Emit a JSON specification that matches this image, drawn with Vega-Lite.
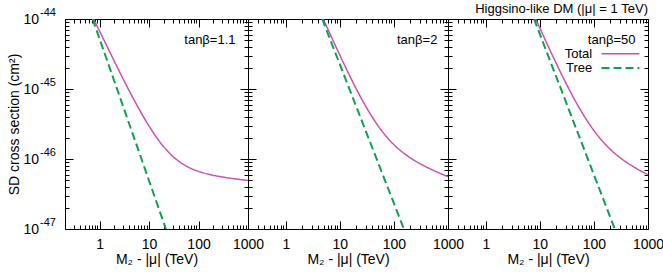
{
  "$schema": "https://vega.github.io/schema/vega-lite/v6.json",
  "background": "white",
  "padding": {"left": 6, "top": 2, "right": 0, "bottom": 0},
  "spacing": 0,
  "bounds": "flush",
  "config": {
    "font": "Liberation Sans",
    "view": {"stroke": "#000", "strokeWidth": 1},
    "axis": {
      "domain": false, "grid": false, "tickColor": "#000", "tickWidth": 1,
      "labelFont": "Liberation Sans", "labelFontSize": 14, "labelColor": "#000",
      "titleFont": "Liberation Sans", "titleFontSize": 14, "titleFontWeight": "normal", "titleColor": "#000",
      "labelOverlap": false, "labelFlush": false
    },
    "title": {"font": "Liberation Sans", "fontSize": 13, "fontWeight": "normal", "color": "#000"}
  },
  "datasets": {
    "curves": [
      {"panel": 1, "series": "Total", "x": 0.759, "y": 1e-44},
      {"panel": 1, "series": "Total", "x": 1, "y": 6.70e-45},
      {"panel": 1, "series": "Total", "x": 1.778, "y": 2.92e-45},
      {"panel": 1, "series": "Total", "x": 3.162, "y": 1.29e-45},
      {"panel": 1, "series": "Total", "x": 5.623, "y": 5.96e-46},
      {"panel": 1, "series": "Total", "x": 10, "y": 2.95e-46},
      {"panel": 1, "series": "Total", "x": 17.78, "y": 1.64e-46},
      {"panel": 1, "series": "Total", "x": 31.62, "y": 1.06e-46},
      {"panel": 1, "series": "Total", "x": 56.23, "y": 7.94e-47},
      {"panel": 1, "series": "Total", "x": 100, "y": 6.65e-47},
      {"panel": 1, "series": "Total", "x": 177.8, "y": 5.95e-47},
      {"panel": 1, "series": "Total", "x": 316.2, "y": 5.51e-47},
      {"panel": 1, "series": "Total", "x": 562.3, "y": 5.19e-47},
      {"panel": 1, "series": "Total", "x": 1000, "y": 4.93e-47},
      {"panel": 1, "series": "Tree", "x": 0.724, "y": 1e-44},
      {"panel": 1, "series": "Tree", "x": 21.9, "y": 1e-47},
      {"panel": 2, "series": "Total", "x": 4.92, "y": 1e-44},
      {"panel": 2, "series": "Total", "x": 6.31, "y": 6.56e-45},
      {"panel": 2, "series": "Total", "x": 10, "y": 3.04e-45},
      {"panel": 2, "series": "Total", "x": 17.78, "y": 1.21e-45},
      {"panel": 2, "series": "Total", "x": 31.62, "y": 5.31e-46},
      {"panel": 2, "series": "Total", "x": 56.23, "y": 2.68e-46},
      {"panel": 2, "series": "Total", "x": 100, "y": 1.60e-46},
      {"panel": 2, "series": "Total", "x": 177.8, "y": 1.11e-46},
      {"panel": 2, "series": "Total", "x": 316.2, "y": 8.43e-47},
      {"panel": 2, "series": "Total", "x": 562.3, "y": 6.77e-47},
      {"panel": 2, "series": "Total", "x": 1000, "y": 5.59e-47},
      {"panel": 2, "series": "Tree", "x": 4.71, "y": 1e-44},
      {"panel": 2, "series": "Tree", "x": 153, "y": 1e-47},
      {"panel": 3, "series": "Total", "x": 8.38, "y": 1e-44},
      {"panel": 3, "series": "Total", "x": 10, "y": 7.41e-45},
      {"panel": 3, "series": "Total", "x": 17.78, "y": 2.83e-45},
      {"panel": 3, "series": "Total", "x": 31.62, "y": 1.14e-45},
      {"panel": 3, "series": "Total", "x": 56.23, "y": 5.03e-46},
      {"panel": 3, "series": "Total", "x": 100, "y": 2.55e-46},
      {"panel": 3, "series": "Total", "x": 177.8, "y": 1.51e-46},
      {"panel": 3, "series": "Total", "x": 316.2, "y": 1.02e-46},
      {"panel": 3, "series": "Total", "x": 562.3, "y": 7.61e-47},
      {"panel": 3, "series": "Total", "x": 1000, "y": 5.94e-47},
      {"panel": 3, "series": "Tree", "x": 7.8, "y": 1e-44},
      {"panel": 3, "series": "Tree", "x": 243, "y": 1e-47}
    ]
  },
  "hconcat": [
    {
      "width": 183, "height": 210,
      "data": {"name": "curves"},
      "transform": [{"filter": "datum.panel == 1"}],
      "layer": [
        {
          "mark": {"type": "line", "clip": true, "interpolate": "monotone"},
          "encoding": {
            "x": {"field": "x", "type": "quantitative", "scale": {"type": "log", "domain": [0.2, 1000], "nice": false},
              "axis": {"orient": "bottom", "values": [0.2,0.3,0.4,0.5,0.6,0.7,0.8,0.9,1,2,3,4,5,6,7,8,9,10,20,30,40,50,60,70,80,90,100,200,300,400,500,600,700,800,900,1000],
                "labelExpr": "abs(log(datum.value)/LN10 - round(log(datum.value)/LN10)) < 0.01 ? format(datum.value, 'd') : ''",
                "tickSize": {"condition": {"test": "abs(log(datum.value)/LN10 - round(log(datum.value)/LN10)) < 0.01", "value": -8}, "value": -4},
                "labelPadding": 16, "title": "M₂ - |μ| (TeV)", "titlePadding": -3}},
            "y": {"field": "y", "type": "quantitative", "scale": {"type": "log", "domain": [1e-47, 1e-44], "nice": false},
              "axis": {"orient": "left", "values": [1e-47,2e-47,3e-47,4e-47,5e-47,6e-47,7e-47,8e-47,9e-47,1e-46,2e-46,3e-46,4e-46,5e-46,6e-46,7e-46,8e-46,9e-46,1e-45,2e-45,3e-45,4e-45,5e-45,6e-45,7e-45,8e-45,9e-45,1e-44],
                "labelExpr": "abs(log(datum.value)/LN10 - round(log(datum.value)/LN10)) < 0.01 ? '10' : ''",
                "tickSize": {"condition": {"test": "abs(log(datum.value)/LN10 - round(log(datum.value)/LN10)) < 0.01", "value": -8}, "value": -4},
                "labelPadding": 34.5, "title": "SD cross section (cm²)", "titlePadding": 1.5}},
            "color": {"field": "series", "type": "nominal", "scale": {"domain": ["Total", "Tree"], "range": ["#cc4fb4", "#10a050"]}, "legend": null},
            "strokeDash": {"field": "series", "type": "nominal", "scale": {"domain": ["Total", "Tree"], "range": [[1, 0], [8, 4]]}, "legend": null},
            "size": {"field": "series", "type": "nominal", "scale": {"domain": ["Total", "Tree"], "range": [1.5, 2]}, "legend": null}
          }
        },
        {
          "mark": {"type": "line", "opacity": 0},
          "encoding": {
            "x": {"field": "x", "type": "quantitative",
              "axis": {"orient": "top", "labels": false, "title": null, "values": [0.2,0.3,0.4,0.5,0.6,0.7,0.8,0.9,1,2,3,4,5,6,7,8,9,10,20,30,40,50,60,70,80,90,100,200,300,400,500,600,700,800,900,1000],
                "tickSize": {"condition": {"test": "abs(log(datum.value)/LN10 - round(log(datum.value)/LN10)) < 0.01", "value": -8}, "value": -4}}},
            "y": {"field": "y", "type": "quantitative",
              "axis": {"orient": "right", "labels": false, "title": null, "values": [1e-47,2e-47,3e-47,4e-47,5e-47,6e-47,7e-47,8e-47,9e-47,1e-46,2e-46,3e-46,4e-46,5e-46,6e-46,7e-46,8e-46,9e-46,1e-45,2e-45,3e-45,4e-45,5e-45,6e-45,7e-45,8e-45,9e-45,1e-44],
                "tickSize": {"condition": {"test": "abs(log(datum.value)/LN10 - round(log(datum.value)/LN10)) < 0.01", "value": -8}, "value": -4}}}
          }
        },
        {
          "data": {"values": [{"yv": 1e-44, "e": "-44"}, {"yv": 1e-45, "e": "-45"}, {"yv": 1e-46, "e": "-46"}, {"yv": 1e-47, "e": "-47"}]},
          "mark": {"type": "text", "align": "left", "baseline": "middle", "fontSize": 11, "dx": -25, "dy": -6, "font": "Liberation Sans", "color": "#000"},
          "encoding": {
            "x": {"datum": 0.2, "type": "quantitative", "axis": null},
            "y": {"field": "yv", "type": "quantitative", "axis": null},
            "text": {"field": "e"}
          }
        },
        {
          "data": {"values": [{}]},
          "mark": {"type": "text", "text": "tanβ=1.1", "align": "right", "baseline": "middle", "fontSize": 13, "font": "Liberation Sans", "color": "#000"},
          "encoding": {
            "x": {"datum": 559, "type": "quantitative", "axis": null},
            "y": {"datum": 4.95e-45, "type": "quantitative", "axis": null}
          }
        }
      ],
      "resolve": {"axis": {"x": "independent", "y": "independent"}}
    },
    {
      "width": 200, "height": 210,
      "data": {"name": "curves"},
      "transform": [{"filter": "datum.panel == 2"}],
      "layer": [
        {
          "mark": {"type": "line", "clip": true, "interpolate": "monotone"},
          "encoding": {
            "x": {"field": "x", "type": "quantitative", "scale": {"type": "log", "domain": [0.2, 1000], "nice": false},
              "axis": {"orient": "bottom", "values": [0.2,0.3,0.4,0.5,0.6,0.7,0.8,0.9,1,2,3,4,5,6,7,8,9,10,20,30,40,50,60,70,80,90,100,200,300,400,500,600,700,800,900,1000],
                "labelExpr": "abs(log(datum.value)/LN10 - round(log(datum.value)/LN10)) < 0.01 ? format(datum.value, 'd') : ''",
                "tickSize": {"condition": {"test": "abs(log(datum.value)/LN10 - round(log(datum.value)/LN10)) < 0.01", "value": -8}, "value": -4},
                "labelPadding": 16, "title": "M₂ - |μ| (TeV)", "titlePadding": -3}},
            "y": {"field": "y", "type": "quantitative", "scale": {"type": "log", "domain": [1e-47, 1e-44], "nice": false},
              "axis": {"orient": "left", "labels": false, "title": null, "values": [1e-47,2e-47,3e-47,4e-47,5e-47,6e-47,7e-47,8e-47,9e-47,1e-46,2e-46,3e-46,4e-46,5e-46,6e-46,7e-46,8e-46,9e-46,1e-45,2e-45,3e-45,4e-45,5e-45,6e-45,7e-45,8e-45,9e-45,1e-44],
                "tickSize": {"condition": {"test": "abs(log(datum.value)/LN10 - round(log(datum.value)/LN10)) < 0.01", "value": -8}, "value": -4}}},
            "color": {"field": "series", "type": "nominal", "scale": {"domain": ["Total", "Tree"], "range": ["#cc4fb4", "#10a050"]}, "legend": null},
            "strokeDash": {"field": "series", "type": "nominal", "scale": {"domain": ["Total", "Tree"], "range": [[1, 0], [8, 4]]}, "legend": null},
            "size": {"field": "series", "type": "nominal", "scale": {"domain": ["Total", "Tree"], "range": [1.5, 2]}, "legend": null}
          }
        },
        {
          "mark": {"type": "line", "opacity": 0},
          "encoding": {
            "x": {"field": "x", "type": "quantitative",
              "axis": {"orient": "top", "labels": false, "title": null, "values": [0.2,0.3,0.4,0.5,0.6,0.7,0.8,0.9,1,2,3,4,5,6,7,8,9,10,20,30,40,50,60,70,80,90,100,200,300,400,500,600,700,800,900,1000],
                "tickSize": {"condition": {"test": "abs(log(datum.value)/LN10 - round(log(datum.value)/LN10)) < 0.01", "value": -8}, "value": -4}}},
            "y": {"field": "y", "type": "quantitative",
              "axis": {"orient": "right", "labels": false, "title": null, "values": [1e-47,2e-47,3e-47,4e-47,5e-47,6e-47,7e-47,8e-47,9e-47,1e-46,2e-46,3e-46,4e-46,5e-46,6e-46,7e-46,8e-46,9e-46,1e-45,2e-45,3e-45,4e-45,5e-45,6e-45,7e-45,8e-45,9e-45,1e-44],
                "tickSize": {"condition": {"test": "abs(log(datum.value)/LN10 - round(log(datum.value)/LN10)) < 0.01", "value": -8}, "value": -4}}}
          }
        },
        {
          "data": {"values": [{}]},
          "mark": {"type": "text", "text": "tanβ=2", "align": "right", "baseline": "middle", "fontSize": 13, "font": "Liberation Sans", "color": "#000"},
          "encoding": {
            "x": {"datum": 636, "type": "quantitative", "axis": null},
            "y": {"datum": 4.95e-45, "type": "quantitative", "axis": null}
          }
        }
      ],
      "resolve": {"axis": {"x": "independent", "y": "independent"}}
    },
    {
      "width": 200, "height": 210,
      "title": {"text": "Higgsino-like DM (|μ| = 1 TeV)", "anchor": "end", "frame": "group", "offset": 3},
      "data": {"name": "curves"},
      "transform": [{"filter": "datum.panel == 3"}],
      "layer": [
        {
          "mark": {"type": "line", "clip": true, "interpolate": "monotone"},
          "encoding": {
            "x": {"field": "x", "type": "quantitative", "scale": {"type": "log", "domain": [0.2, 1000], "nice": false},
              "axis": {"orient": "bottom", "values": [0.2,0.3,0.4,0.5,0.6,0.7,0.8,0.9,1,2,3,4,5,6,7,8,9,10,20,30,40,50,60,70,80,90,100,200,300,400,500,600,700,800,900,1000],
                "labelExpr": "abs(log(datum.value)/LN10 - round(log(datum.value)/LN10)) < 0.01 ? format(datum.value, 'd') : ''",
                "tickSize": {"condition": {"test": "abs(log(datum.value)/LN10 - round(log(datum.value)/LN10)) < 0.01", "value": -8}, "value": -4},
                "labelPadding": 16, "title": "M₂ - |μ| (TeV)", "titlePadding": -3}},
            "y": {"field": "y", "type": "quantitative", "scale": {"type": "log", "domain": [1e-47, 1e-44], "nice": false},
              "axis": {"orient": "left", "labels": false, "title": null, "values": [1e-47,2e-47,3e-47,4e-47,5e-47,6e-47,7e-47,8e-47,9e-47,1e-46,2e-46,3e-46,4e-46,5e-46,6e-46,7e-46,8e-46,9e-46,1e-45,2e-45,3e-45,4e-45,5e-45,6e-45,7e-45,8e-45,9e-45,1e-44],
                "tickSize": {"condition": {"test": "abs(log(datum.value)/LN10 - round(log(datum.value)/LN10)) < 0.01", "value": -8}, "value": -4}}},
            "color": {"field": "series", "type": "nominal", "scale": {"domain": ["Total", "Tree"], "range": ["#cc4fb4", "#10a050"]}, "legend": null},
            "strokeDash": {"field": "series", "type": "nominal", "scale": {"domain": ["Total", "Tree"], "range": [[1, 0], [8, 4]]}, "legend": null},
            "size": {"field": "series", "type": "nominal", "scale": {"domain": ["Total", "Tree"], "range": [1.5, 2]}, "legend": null}
          }
        },
        {
          "mark": {"type": "line", "opacity": 0},
          "encoding": {
            "x": {"field": "x", "type": "quantitative",
              "axis": {"orient": "top", "labels": false, "title": null, "values": [0.2,0.3,0.4,0.5,0.6,0.7,0.8,0.9,1,2,3,4,5,6,7,8,9,10,20,30,40,50,60,70,80,90,100,200,300,400,500,600,700,800,900,1000],
                "tickSize": {"condition": {"test": "abs(log(datum.value)/LN10 - round(log(datum.value)/LN10)) < 0.01", "value": -8}, "value": -4}}},
            "y": {"field": "y", "type": "quantitative",
              "axis": {"orient": "right", "labels": false, "title": null, "values": [1e-47,2e-47,3e-47,4e-47,5e-47,6e-47,7e-47,8e-47,9e-47,1e-46,2e-46,3e-46,4e-46,5e-46,6e-46,7e-46,8e-46,9e-46,1e-45,2e-45,3e-45,4e-45,5e-45,6e-45,7e-45,8e-45,9e-45,1e-44],
                "tickSize": {"condition": {"test": "abs(log(datum.value)/LN10 - round(log(datum.value)/LN10)) < 0.01", "value": -8}, "value": -4}}}
          }
        },
        {
          "data": {"values": [{}]},
          "mark": {"type": "text", "text": "tanβ=50", "align": "right", "baseline": "middle", "fontSize": 13, "font": "Liberation Sans", "color": "#000"},
          "encoding": {
            "x": {"datum": 586, "type": "quantitative", "axis": null},
            "y": {"datum": 4.95e-45, "type": "quantitative", "axis": null}
          }
        },
        {
          "data": {"values": [{}]},
          "mark": {"type": "text", "text": "Total", "align": "right", "baseline": "middle", "fontSize": 13, "font": "Liberation Sans", "color": "#000"},
          "encoding": {
            "x": {"datum": 93, "type": "quantitative", "axis": null},
            "y": {"datum": 3.2e-45, "type": "quantitative", "axis": null}
          }
        },
        {
          "data": {"values": [{}]},
          "mark": {"type": "text", "text": "Tree", "align": "right", "baseline": "middle", "fontSize": 13, "font": "Liberation Sans", "color": "#000"},
          "encoding": {
            "x": {"datum": 93, "type": "quantitative", "axis": null},
            "y": {"datum": 2.0e-45, "type": "quantitative", "axis": null}
          }
        },
        {
          "data": {"values": [{}]},
          "mark": {"type": "rule", "color": "#cc4fb4", "strokeWidth": 1.5},
          "encoding": {
            "x": {"datum": 138, "type": "quantitative", "axis": null},
            "x2": {"datum": 694},
            "y": {"datum": 3.2e-45, "type": "quantitative", "axis": null}
          }
        },
        {
          "data": {"values": [{}]},
          "mark": {"type": "rule", "color": "#10a050", "strokeWidth": 2, "strokeDash": [8, 4]},
          "encoding": {
            "x": {"datum": 138, "type": "quantitative", "axis": null},
            "x2": {"datum": 694},
            "y": {"datum": 2.0e-45, "type": "quantitative", "axis": null}
          }
        }
      ],
      "resolve": {"axis": {"x": "independent", "y": "independent"}}
    }
  ]
}
